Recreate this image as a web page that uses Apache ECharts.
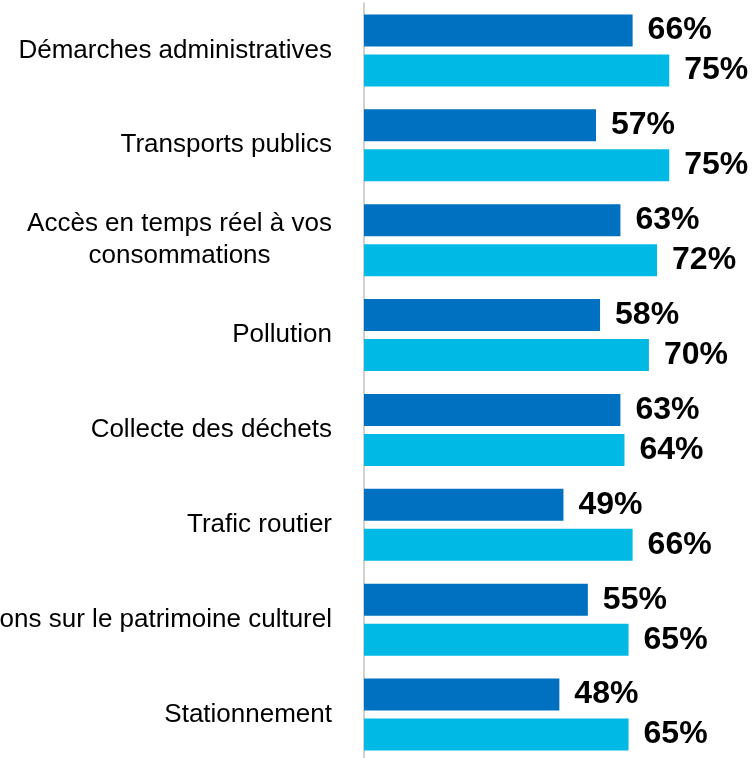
<!DOCTYPE html>
<html>
<head>
<meta charset="utf-8">
<script src="https://cdn.jsdelivr.net/npm/echarts@6/dist/echarts.min.js"></script>
<style>
  html, body { margin: 0; padding: 0; background: #fff; }
  #chart { width: 754px; height: 758px; }
</style>
</head>
<body>
<div id="chart"></div>
<script>
var categories = [
    'Démarches administratives',
    'Transports publics',
    'Accès en temps réel à vos\nconsommations',
    'Pollution',
    'Collecte des déchets',
    'Trafic routier',
    'Informations sur le patrimoine culturel',
    'Stationnement'
];
var darkValues = [66, 57, 63, 58, 63, 49, 55, 48];
var lightValues = [75, 75, 72, 70, 64, 66, 65, 65];

var valueLabel = {
    show: true,
    position: 'right',
    distance: 15,
    formatter: '{c}%',
    color: '#000',
    fontFamily: 'Liberation Sans',
    fontWeight: 'bold',
    fontSize: 32
};

var option = {
    animation: false,
    grid: {
        left: 364, top: 3, width: 407, height: 759,
        containLabel: false,
        outerBoundsMode: 'none'
    },
    xAxis: {
        type: 'value',
        min: 0,
        max: 100,
        show: false
    },
    yAxis: {
        type: 'category',
        data: categories,
        inverse: true,
        offset: 1,
        axisTick: { show: false },
        axisLine: { show: true, lineStyle: { color: '#C4C0BC', width: 1.5 } },
        axisLabel: {
            interval: 0,
            margin: 31,
            formatter: function (v) {
                // lignes centrées entre elles
                return v.split('\n').map(function (s) { return '{c|' + s + '}'; }).join('\n');
            },
            rich: {
                c: {
                    align: 'center',
                    color: '#000',
                    fontFamily: 'Liberation Sans',
                    fontSize: 26,
                    lineHeight: 32
                }
            }
        }
    },
    series: [
        {
            type: 'bar',
            data: darkValues,
            barWidth: 32,
            barGap: '25%',
            itemStyle: { color: '#0070C0' },
            label: valueLabel
        },
        {
            type: 'bar',
            data: lightValues,
            barWidth: 32,
            barGap: '25%',
            itemStyle: { color: '#00B9E4' },
            label: valueLabel
        }
    ]
};

var myChart = echarts.init(document.getElementById('chart'));
myChart.setOption(option);
</script>
</body>
</html>
